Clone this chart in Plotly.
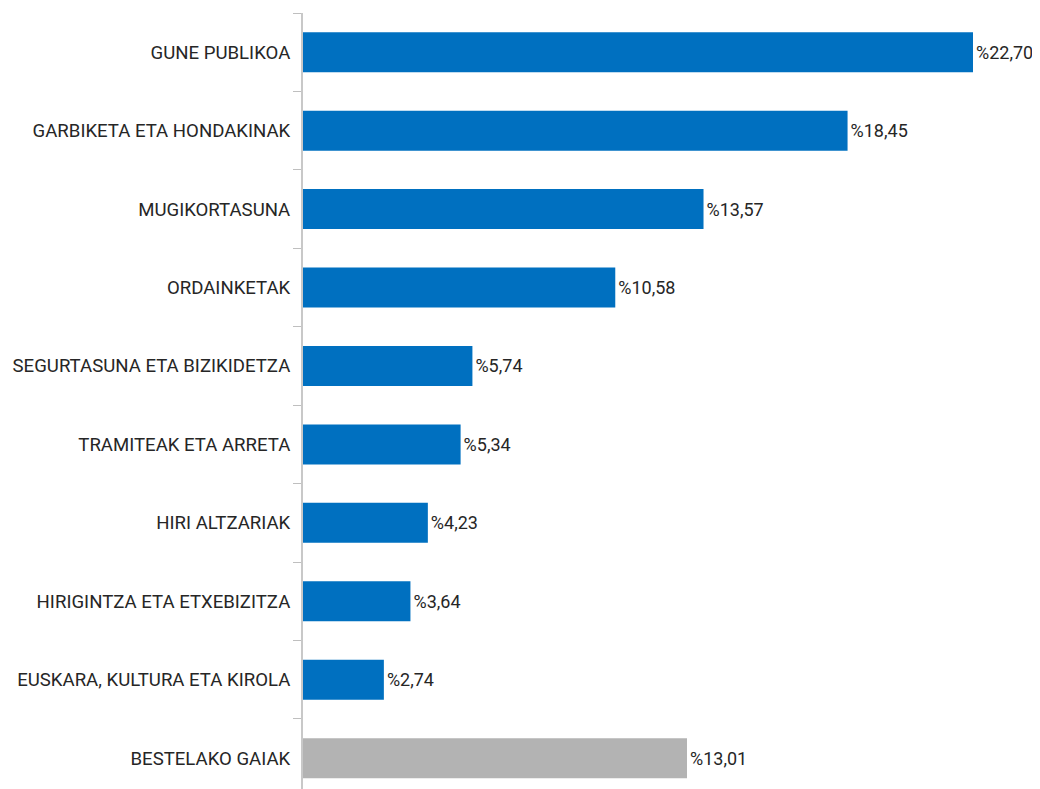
import plotly.graph_objects as go

categories = ["GUNE PUBLIKOA", "GARBIKETA ETA HONDAKINAK", "MUGIKORTASUNA", "ORDAINKETAK",
              "SEGURTASUNA ETA BIZIKIDETZA", "TRAMITEAK ETA ARRETA", "HIRI ALTZARIAK",
              "HIRIGINTZA ETA ETXEBIZITZA", "EUSKARA, KULTURA ETA KIROLA", "BESTELAKO GAIAK"]
values = [22.70, 18.45, 13.57, 10.58, 5.74, 5.34, 4.23, 3.64, 2.74, 13.01]
labels = ["%22,70", "%18,45", "%13,57", "%10,58", "%5,74", "%5,34", "%4,23", "%3,64", "%2,74", "%13,01"]
colors = ["#0070C0"] * 9 + ["#B3B3B3"]

fig = go.Figure(go.Bar(
    x=values, y=categories, orientation="h",
    marker=dict(color=colors, line=dict(width=0)),
    width=0.51,
    text=labels, textposition="outside", cliponaxis=False,
    textfont=dict(family="Roboto", size=18, color="#262626"),
))

fig.update_layout(
    width=1032, height=789,
    margin=dict(l=295, r=0, t=5, b=0),
    plot_bgcolor="white", paper_bgcolor="white",
    showlegend=False,
    xaxis=dict(range=[0, 24.97], visible=False),
    yaxis=dict(
        type="category", categoryorder="array", categoryarray=categories,
        range=[9.495, -0.5],
        showline=True, linecolor="#C8C8C8", linewidth=2,
        ticks="outside", ticklen=8, tickcolor="#BFBFBF", tickwidth=1,
        tickson="boundaries",
        ticklabelstandoff=7,
        tickfont=dict(family="Roboto", size=18.6, color="#262626"),
        showgrid=False,
    ),
)

fig.write_html("out.html")
